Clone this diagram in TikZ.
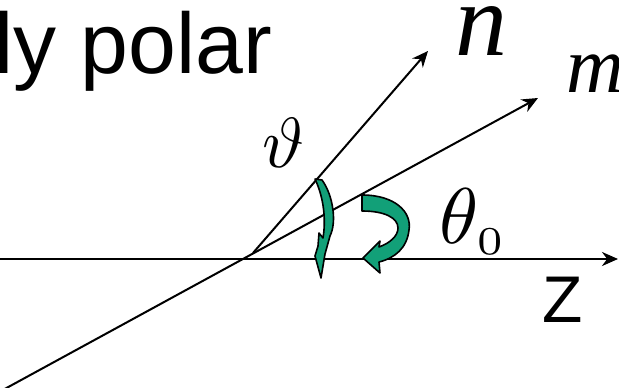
\documentclass[tikz,border=0pt]{standalone}
\usepackage{fontspec}
\usepackage{graphicx}
\newfontfamily\slidesans{Liberation Sans}
\newfontfamily\slideserif{Liberation Serif}
\usetikzlibrary{arrows.meta}
\definecolor{rotgreen}{RGB}{18,160,120}

\begin{document}
\begin{tikzpicture}[x=1pt, y=-1pt, >={Stealth[length=16pt,width=14pt]},
  axisline/.style={line width=2.8pt},
  dirline/.style={line width=2pt},
  rotarrow/.style={fill=rotgreen, draw=black, line width=1.6pt, line join=round},
  lbl/.style={anchor=base west, inner sep=0pt}]
  \clip (0,0) rectangle (619,388);

  % === AXES ===
  \coordinate (zstart) at (0,259);
  \coordinate (zend) at (618,259);
  \coordinate (mstart) at (-10,397);
  \coordinate (mend) at (538,98);
  \coordinate (O) at (253,253);
  \coordinate (nend) at (428,51);

  \draw[axisline, ->] (zstart) -- (zend);
  \draw[dirline, ->] (mstart) -- (mend);
  \draw[dirline, ->] (O) -- (nend);

  % labels
  \node[lbl] (title) at (0,73) {\fontsize{86}{86}\slidesans\smash{\hspace*{-5.6pt}ly polar}};
  \node[lbl] (nlbl) at (455,55) {\fontsize{104}{104}\slideserif\itshape\smash{n}};
  \node[lbl] (mlbl) at (566,92) {\fontsize{80}{80}\slideserif\itshape m};
  \node[lbl] (varthlbl) at (262,167) {\scalebox{7.1}{$\vartheta$}};
  \node[lbl] (thlbl) at (439,243) {\scalebox{7.9}{$\theta_{\scriptscriptstyle 0}$}};
  \node[lbl] (zlbl) at (542,322) {\fontsize{66}{66}\slidesans Z};

  % === ROTATIONS ===
  % thin arrow (seen edge on)
  \draw[rotarrow] (315,179) -- (322,180) .. controls (333,195) and (337,222) .. (330,236)
    -- (325,254) -- (321,278) -- (315,256) -- (318,246) -- (319,233) -- (323,238)
    .. controls (326,220) and (324,198) .. (315,179) -- cycle;
  % wide arrow
  \draw[rotarrow] (362,195) .. controls (395,195) and (412,212) .. (409,230)
    .. controls (407,248) and (395,258) .. (379,262) -- (380,273) -- (363,258)
    -- (380,241) -- (379,247) .. controls (390,243) and (398,236) .. (398,228)
    .. controls (398,218) and (385,211) .. (362,211) -- cycle;
\end{tikzpicture}
\end{document}
